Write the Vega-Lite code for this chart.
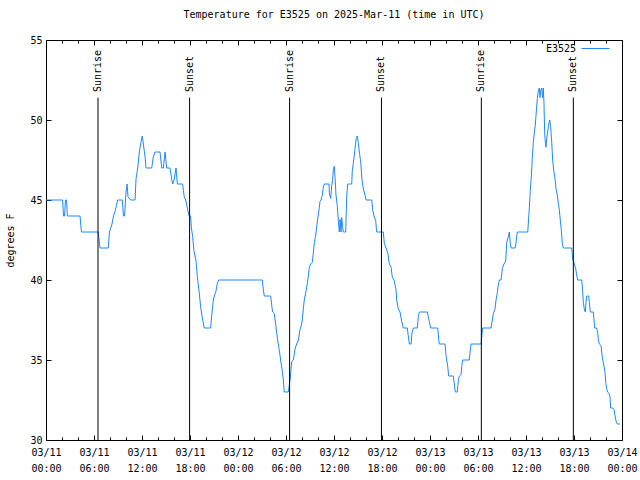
{
  "$schema": "https://vega.github.io/schema/vega-lite/v6.json",
  "autosize": "none",
  "width": 576,
  "height": 400,
  "padding": {"left": 46, "top": 40, "right": 18, "bottom": 40},
  "background": "white",
  "title": {"text": "Temperature for E3525 on 2025-Mar-11 (time in UTC)", "anchor": "middle", "frame": "group", "font": "DejaVu Sans Mono", "fontSize": 10, "fontWeight": "normal", "color": "black", "offset": 14},
  "config": {
    "view": {"stroke": "black", "strokeWidth": 1},
    "axis": {"labelFont": "DejaVu Sans Mono", "labelFontSize": 10, "labelColor": "black", "titleFont": "DejaVu Sans Mono", "titleFontSize": 10, "titleFontWeight": "normal", "titleColor": "black", "tickColor": "black", "grid": false, "domain": false}
  },
  "datasets": {
    "temps": [
      {"t":"2025-03-11T00:00Z","v":45},{"t":"2025-03-11T02:05Z","v":45},{"t":"2025-03-11T02:11Z","v":44},{"t":"2025-03-11T02:19Z","v":44},{"t":"2025-03-11T02:26Z","v":45},{"t":"2025-03-11T02:34Z","v":45},{"t":"2025-03-11T02:40Z","v":44},{"t":"2025-03-11T04:15Z","v":44},{"t":"2025-03-11T04:26Z","v":43},{"t":"2025-03-11T06:32Z","v":43},{"t":"2025-03-11T06:45Z","v":42},{"t":"2025-03-11T07:47Z","v":42},{"t":"2025-03-11T07:56Z","v":43},{"t":"2025-03-11T08:15Z","v":43.5},{"t":"2025-03-11T08:26Z","v":44},{"t":"2025-03-11T08:38Z","v":44.3},{"t":"2025-03-11T08:58Z","v":45},{"t":"2025-03-11T09:32Z","v":45},{"t":"2025-03-11T09:41Z","v":44},{"t":"2025-03-11T09:49Z","v":44},{"t":"2025-03-11T10:00Z","v":45.5},{"t":"2025-03-11T10:08Z","v":46},{"t":"2025-03-11T10:15Z","v":45.2},{"t":"2025-03-11T10:35Z","v":45},{"t":"2025-03-11T11:08Z","v":45},{"t":"2025-03-11T11:15Z","v":46.3},{"t":"2025-03-11T11:28Z","v":47},{"t":"2025-03-11T11:40Z","v":48},{"t":"2025-03-11T11:50Z","v":48.5},{"t":"2025-03-11T12:02Z","v":49},{"t":"2025-03-11T12:10Z","v":48.5},{"t":"2025-03-11T12:23Z","v":47.7},{"t":"2025-03-11T12:30Z","v":47},{"t":"2025-03-11T13:13Z","v":47},{"t":"2025-03-11T13:25Z","v":47.7},{"t":"2025-03-11T13:38Z","v":48},{"t":"2025-03-11T14:15Z","v":48},{"t":"2025-03-11T14:28Z","v":47},{"t":"2025-03-11T14:40Z","v":47},{"t":"2025-03-11T14:53Z","v":48},{"t":"2025-03-11T15:05Z","v":47},{"t":"2025-03-11T15:30Z","v":47},{"t":"2025-03-11T15:43Z","v":46.3},{"t":"2025-03-11T15:50Z","v":46},{"t":"2025-03-11T16:02Z","v":46.3},{"t":"2025-03-11T16:15Z","v":47},{"t":"2025-03-11T16:25Z","v":46},{"t":"2025-03-11T17:05Z","v":46},{"t":"2025-03-11T17:10Z","v":45.6},{"t":"2025-03-11T17:17Z","v":45.2},{"t":"2025-03-11T17:28Z","v":45},{"t":"2025-03-11T17:40Z","v":44.5},{"t":"2025-03-11T17:53Z","v":44},{"t":"2025-03-11T18:05Z","v":44},{"t":"2025-03-11T18:10Z","v":43.3},{"t":"2025-03-11T18:20Z","v":42.7},{"t":"2025-03-11T18:30Z","v":41.8},{"t":"2025-03-11T18:45Z","v":41.2},{"t":"2025-03-11T18:55Z","v":40.2},{"t":"2025-03-11T19:08Z","v":39.3},{"t":"2025-03-11T19:20Z","v":38.3},{"t":"2025-03-11T19:35Z","v":37.5},{"t":"2025-03-11T19:47Z","v":37},{"t":"2025-03-11T20:35Z","v":37},{"t":"2025-03-11T20:43Z","v":37.8},{"t":"2025-03-11T20:55Z","v":38.75},{"t":"2025-03-11T21:02Z","v":39},{"t":"2025-03-11T21:15Z","v":39.3},{"t":"2025-03-11T21:25Z","v":39.8},{"t":"2025-03-11T21:35Z","v":40},
      {"t":"2025-03-12T03:02Z","v":40},{"t":"2025-03-12T03:10Z","v":39.4},{"t":"2025-03-12T03:17Z","v":39},{"t":"2025-03-12T04:05Z","v":39},{"t":"2025-03-12T04:13Z","v":38.4},{"t":"2025-03-12T04:20Z","v":38},{"t":"2025-03-12T04:32Z","v":37.9},{"t":"2025-03-12T04:43Z","v":37.2},{"t":"2025-03-12T04:50Z","v":36.7},{"t":"2025-03-12T04:58Z","v":36.2},{"t":"2025-03-12T05:08Z","v":35.7},{"t":"2025-03-12T05:15Z","v":35.3},{"t":"2025-03-12T05:23Z","v":34.8},{"t":"2025-03-12T05:32Z","v":34.3},{"t":"2025-03-12T05:40Z","v":33.75},{"t":"2025-03-12T05:47Z","v":33},{"t":"2025-03-12T06:17Z","v":33},{"t":"2025-03-12T06:30Z","v":33.75},{"t":"2025-03-12T06:43Z","v":34.9},{"t":"2025-03-12T06:55Z","v":35},{"t":"2025-03-12T07:08Z","v":35.7},{"t":"2025-03-12T07:20Z","v":36},{"t":"2025-03-12T07:32Z","v":36.2},{"t":"2025-03-12T07:45Z","v":36.9},{"t":"2025-03-12T07:53Z","v":37.1},{"t":"2025-03-12T08:02Z","v":37.5},{"t":"2025-03-12T08:10Z","v":38.2},{"t":"2025-03-12T08:17Z","v":38.75},{"t":"2025-03-12T08:30Z","v":39.3},{"t":"2025-03-12T08:40Z","v":39.8},{"t":"2025-03-12T08:47Z","v":40.2},{"t":"2025-03-12T08:55Z","v":40.8},{"t":"2025-03-12T09:05Z","v":41},{"t":"2025-03-12T09:17Z","v":41.1},{"t":"2025-03-12T09:25Z","v":41.7},{"t":"2025-03-12T09:32Z","v":42.3},{"t":"2025-03-12T09:43Z","v":42.8},{"t":"2025-03-12T09:50Z","v":43.3},{"t":"2025-03-12T09:58Z","v":43.85},{"t":"2025-03-12T10:08Z","v":44.4},{"t":"2025-03-12T10:15Z","v":44.9},{"t":"2025-03-12T10:23Z","v":45},{"t":"2025-03-12T10:32Z","v":45.3},{"t":"2025-03-12T10:40Z","v":45.8},{"t":"2025-03-12T10:47Z","v":46},{"t":"2025-03-12T11:23Z","v":46},{"t":"2025-03-12T11:25Z","v":45.4},{"t":"2025-03-12T11:35Z","v":45.1},{"t":"2025-03-12T11:43Z","v":45.9},{"t":"2025-03-12T11:50Z","v":46.3},{"t":"2025-03-12T11:55Z","v":46.9},{"t":"2025-03-12T12:02Z","v":47.1},{"t":"2025-03-12T12:08Z","v":46.4},{"t":"2025-03-12T12:15Z","v":45.3},{"t":"2025-03-12T12:25Z","v":44.6},{"t":"2025-03-12T12:32Z","v":43.75},{"t":"2025-03-12T12:40Z","v":43},{"t":"2025-03-12T12:45Z","v":43.8},{"t":"2025-03-12T12:53Z","v":43},{"t":"2025-03-12T12:58Z","v":43.9},{"t":"2025-03-12T13:05Z","v":43.3},{"t":"2025-03-12T13:10Z","v":43},{"t":"2025-03-12T13:28Z","v":43},{"t":"2025-03-12T13:30Z","v":43.7},{"t":"2025-03-12T13:35Z","v":45.2},{"t":"2025-03-12T13:43Z","v":46},{"t":"2025-03-12T14:13Z","v":46},{"t":"2025-03-12T14:17Z","v":46.8},{"t":"2025-03-12T14:25Z","v":47.3},{"t":"2025-03-12T14:32Z","v":47.8},{"t":"2025-03-12T14:40Z","v":48.4},{"t":"2025-03-12T14:47Z","v":48.85},{"t":"2025-03-12T14:55Z","v":49},{"t":"2025-03-12T15:02Z","v":48.6},{"t":"2025-03-12T15:10Z","v":48},{"t":"2025-03-12T15:20Z","v":47.4},{"t":"2025-03-12T15:30Z","v":46.25},{"t":"2025-03-12T15:40Z","v":45.7},{"t":"2025-03-12T15:53Z","v":45.3},{"t":"2025-03-12T16:00Z","v":45},{"t":"2025-03-12T16:43Z","v":45},{"t":"2025-03-12T16:50Z","v":44.4},{"t":"2025-03-12T17:00Z","v":44},{"t":"2025-03-12T17:13Z","v":43.7},{"t":"2025-03-12T17:20Z","v":43},{"t":"2025-03-12T18:10Z","v":43},{"t":"2025-03-12T18:17Z","v":42.3},{"t":"2025-03-12T18:30Z","v":42},{"t":"2025-03-12T18:43Z","v":41.7},{"t":"2025-03-12T18:55Z","v":41},{"t":"2025-03-12T19:08Z","v":40.8},{"t":"2025-03-12T19:17Z","v":40.2},{"t":"2025-03-12T19:30Z","v":40},{"t":"2025-03-12T19:45Z","v":39.4},{"t":"2025-03-12T19:50Z","v":38.75},{"t":"2025-03-12T20:02Z","v":38.2},{"t":"2025-03-12T20:15Z","v":38},{"t":"2025-03-12T20:28Z","v":37.4},{"t":"2025-03-12T20:40Z","v":37},{"t":"2025-03-12T21:10Z","v":37},{"t":"2025-03-12T21:17Z","v":36.5},{"t":"2025-03-12T21:25Z","v":36},{"t":"2025-03-12T21:38Z","v":36},{"t":"2025-03-12T21:45Z","v":36.7},{"t":"2025-03-12T21:55Z","v":37},{"t":"2025-03-12T22:25Z","v":37},{"t":"2025-03-12T22:32Z","v":37.7},{"t":"2025-03-12T22:40Z","v":38},{"t":"2025-03-12T23:40Z","v":38},{"t":"2025-03-12T23:47Z","v":37.7},{"t":"2025-03-12T23:55Z","v":37.4},
      {"t":"2025-03-13T00:05Z","v":37},{"t":"2025-03-13T00:58Z","v":37},{"t":"2025-03-13T01:05Z","v":36.3},{"t":"2025-03-13T01:10Z","v":36},{"t":"2025-03-13T01:53Z","v":36},{"t":"2025-03-13T02:00Z","v":35.3},{"t":"2025-03-13T02:05Z","v":35},{"t":"2025-03-13T02:13Z","v":34.6},{"t":"2025-03-13T02:20Z","v":34},{"t":"2025-03-13T02:55Z","v":34},{"t":"2025-03-13T03:02Z","v":33.5},{"t":"2025-03-13T03:10Z","v":33},{"t":"2025-03-13T03:25Z","v":33},{"t":"2025-03-13T03:32Z","v":33.7},{"t":"2025-03-13T03:40Z","v":34},{"t":"2025-03-13T03:53Z","v":34.1},{"t":"2025-03-13T03:58Z","v":34.6},{"t":"2025-03-13T04:05Z","v":35},{"t":"2025-03-13T04:55Z","v":35},{"t":"2025-03-13T05:00Z","v":35.5},{"t":"2025-03-13T05:08Z","v":36},{"t":"2025-03-13T06:23Z","v":36},{"t":"2025-03-13T06:28Z","v":36.4},{"t":"2025-03-13T06:35Z","v":37},{"t":"2025-03-13T07:38Z","v":37},{"t":"2025-03-13T07:47Z","v":37.5},{"t":"2025-03-13T07:55Z","v":37.9},{"t":"2025-03-13T08:08Z","v":38.2},{"t":"2025-03-13T08:15Z","v":38.75},{"t":"2025-03-13T08:25Z","v":39.2},{"t":"2025-03-13T08:32Z","v":39.7},{"t":"2025-03-13T08:40Z","v":40},{"t":"2025-03-13T08:53Z","v":40},{"t":"2025-03-13T09:02Z","v":40.7},{"t":"2025-03-13T09:15Z","v":41},{"t":"2025-03-13T09:28Z","v":41.2},{"t":"2025-03-13T09:35Z","v":42.3},{"t":"2025-03-13T09:47Z","v":42.7},{"t":"2025-03-13T09:55Z","v":43},{"t":"2025-03-13T10:02Z","v":42.3},{"t":"2025-03-13T10:08Z","v":42},{"t":"2025-03-13T10:38Z","v":42},{"t":"2025-03-13T10:45Z","v":42.3},{"t":"2025-03-13T10:50Z","v":42.7},{"t":"2025-03-13T10:55Z","v":43},{"t":"2025-03-13T12:13Z","v":43},{"t":"2025-03-13T12:17Z","v":43.5},{"t":"2025-03-13T12:25Z","v":44.5},{"t":"2025-03-13T12:32Z","v":45.6},{"t":"2025-03-13T12:40Z","v":46.5},{"t":"2025-03-13T12:47Z","v":47.6},{"t":"2025-03-13T12:55Z","v":48.6},{"t":"2025-03-13T13:02Z","v":49.2},{"t":"2025-03-13T13:10Z","v":49.7},{"t":"2025-03-13T13:17Z","v":50.5},{"t":"2025-03-13T13:25Z","v":51.35},{"t":"2025-03-13T13:32Z","v":51.8},{"t":"2025-03-13T13:40Z","v":52},{"t":"2025-03-13T13:45Z","v":51.4},{"t":"2025-03-13T13:50Z","v":51.8},{"t":"2025-03-13T13:58Z","v":52},{"t":"2025-03-13T14:05Z","v":51.4},{"t":"2025-03-13T14:10Z","v":52},{"t":"2025-03-13T14:15Z","v":51},{"t":"2025-03-13T14:20Z","v":49.2},{"t":"2025-03-13T14:25Z","v":48.6},{"t":"2025-03-13T14:30Z","v":48.3},{"t":"2025-03-13T14:35Z","v":48.8},{"t":"2025-03-13T14:43Z","v":49.3},{"t":"2025-03-13T14:50Z","v":49.7},{"t":"2025-03-13T14:58Z","v":50},{"t":"2025-03-13T15:05Z","v":49.6},{"t":"2025-03-13T15:13Z","v":48.6},{"t":"2025-03-13T15:20Z","v":47.5},{"t":"2025-03-13T15:30Z","v":46.7},{"t":"2025-03-13T15:38Z","v":46.3},{"t":"2025-03-13T15:45Z","v":45.7},{"t":"2025-03-13T15:55Z","v":45.3},{"t":"2025-03-13T16:02Z","v":44.8},{"t":"2025-03-13T16:10Z","v":44.4},{"t":"2025-03-13T16:17Z","v":43.75},{"t":"2025-03-13T16:25Z","v":43.1},{"t":"2025-03-13T16:32Z","v":42.3},{"t":"2025-03-13T16:40Z","v":42},{"t":"2025-03-13T17:43Z","v":42},{"t":"2025-03-13T17:45Z","v":41.8},{"t":"2025-03-13T17:50Z","v":41.3},{"t":"2025-03-13T18:02Z","v":41},{"t":"2025-03-13T18:13Z","v":40.7},{"t":"2025-03-13T18:20Z","v":40.3},{"t":"2025-03-13T18:28Z","v":40},{"t":"2025-03-13T18:58Z","v":40},{"t":"2025-03-13T19:05Z","v":39.3},{"t":"2025-03-13T19:10Z","v":38.6},{"t":"2025-03-13T19:17Z","v":38.2},{"t":"2025-03-13T19:25Z","v":38},{"t":"2025-03-13T19:30Z","v":38.6},{"t":"2025-03-13T19:35Z","v":39},{"t":"2025-03-13T19:50Z","v":39},{"t":"2025-03-13T19:55Z","v":38.6},{"t":"2025-03-13T20:02Z","v":38},{"t":"2025-03-13T20:25Z","v":38},{"t":"2025-03-13T20:30Z","v":37.5},{"t":"2025-03-13T20:35Z","v":37},{"t":"2025-03-13T20:50Z","v":37},{"t":"2025-03-13T20:58Z","v":36.7},{"t":"2025-03-13T21:02Z","v":36.3},{"t":"2025-03-13T21:10Z","v":36},{"t":"2025-03-13T21:23Z","v":35.9},{"t":"2025-03-13T21:30Z","v":35.3},{"t":"2025-03-13T21:38Z","v":34.9},{"t":"2025-03-13T21:45Z","v":34.6},{"t":"2025-03-13T21:53Z","v":34.2},{"t":"2025-03-13T21:58Z","v":33.6},{"t":"2025-03-13T22:05Z","v":33.2},{"t":"2025-03-13T22:13Z","v":33},{"t":"2025-03-13T22:23Z","v":32.9},{"t":"2025-03-13T22:30Z","v":32.7},{"t":"2025-03-13T22:35Z","v":32},{"t":"2025-03-13T22:50Z","v":32},{"t":"2025-03-13T23:00Z","v":31.9},{"t":"2025-03-13T23:08Z","v":31.5},{"t":"2025-03-13T23:15Z","v":31.2},{"t":"2025-03-13T23:25Z","v":31},{"t":"2025-03-13T23:45Z","v":31}
    ],
    "events": [
      {"t":"2025-03-11T06:30Z","event":"Sunrise"},
      {"t":"2025-03-11T17:57Z","event":"Sunset"},
      {"t":"2025-03-12T06:27Z","event":"Sunrise"},
      {"t":"2025-03-12T17:56Z","event":"Sunset"},
      {"t":"2025-03-13T06:25Z","event":"Sunrise"},
      {"t":"2025-03-13T17:55Z","event":"Sunset"}
    ]
  },
  "layer": [
    {
      "data": {"name": "temps"},
      "mark": {"type": "line", "strokeWidth": 1, "interpolate": "linear"},
      "encoding": {
        "x": {"field": "t", "type": "temporal",
          "scale": {"type": "utc", "domain": [1741651200000, 1741910400000], "nice": false},
          "axis": {"orient": "bottom", "title": null, "tickCount": 12, "tickSize": -5,
            "labelExpr": "[utcFormat(datum.value, '%m/%d'), utcFormat(datum.value, '%H:%M')]",
            "labelOverlap": false, "labelFlush": false, "labelAngle": 0, "labelAlign": "center", "labelBaseline": "top", "labelLineHeight": 16, "labelPadding": 12}},
        "y": {"field": "v", "type": "quantitative",
          "scale": {"domain": [30, 55], "nice": false, "zero": false},
          "axis": {"orient": "left", "title": "degrees F", "values": [30, 35, 40, 45, 50, 55], "tickSize": -5, "labelPadding": 9, "titlePadding": 14}},
        "color": {"datum": "E3525", "type": "nominal",
          "scale": {"range": ["#1e88ff"]},
          "legend": {"title": null, "orient": "none", "legendX": 535, "legendY": -6, "symbolType": "stroke", "symbolSize": 784, "symbolStrokeWidth": 1, "labelAlign": "right", "labelOffset": -34, "labelFont": "DejaVu Sans Mono", "labelFontSize": 10, "labelColor": "black"}}
      }
    },
    {
      "data": {"name": "events"},
      "mark": {"type": "rule", "color": "black", "strokeWidth": 1},
      "encoding": {
        "x": {"field": "t", "type": "temporal",
          "axis": {"orient": "top", "title": null, "labels": false, "tickCount": 12, "tickSize": -5}},
        "y": {"datum": 30, "type": "quantitative",
          "axis": {"orient": "right", "title": null, "labels": false, "values": [30, 35, 40, 45, 50, 55], "tickSize": -5}},
        "y2": {"datum": 51.4}
      }
    },
    {
      "data": {"name": "events"},
      "transform": [{"filter": "datum.event === 'Sunrise'"}],
      "mark": {"type": "text", "angle": 270, "align": "left", "baseline": "middle", "font": "DejaVu Sans Mono", "fontSize": 10, "color": "black"},
      "encoding": {
        "x": {"field": "t", "type": "temporal",
          "axis": {"orient": "bottom", "title": null, "labels": false, "tickSize": -3,
            "values": [1741658400000, 1741665600000, 1741672800000, 1741680000000, 1741687200000, 1741694400000, 1741701600000, 1741708800000, 1741716000000, 1741723200000, 1741730400000, 1741737600000, 1741744800000, 1741752000000, 1741759200000, 1741766400000, 1741773600000, 1741780800000, 1741788000000, 1741795200000, 1741802400000, 1741809600000, 1741816800000, 1741824000000, 1741831200000, 1741838400000, 1741845600000, 1741852800000, 1741860000000, 1741867200000, 1741874400000, 1741881600000, 1741888800000, 1741896000000, 1741903200000]}},
        "y": {"datum": 51.75, "type": "quantitative", "axis": null},
        "text": {"field": "event"}
      }
    },
    {
      "data": {"name": "events"},
      "transform": [{"filter": "datum.event === 'Sunset'"}],
      "mark": {"type": "text", "angle": 270, "align": "left", "baseline": "middle", "font": "DejaVu Sans Mono", "fontSize": 10, "color": "black"},
      "encoding": {
        "x": {"field": "t", "type": "temporal",
          "axis": {"orient": "top", "title": null, "labels": false, "tickSize": -3,
            "values": [1741658400000, 1741665600000, 1741672800000, 1741680000000, 1741687200000, 1741694400000, 1741701600000, 1741708800000, 1741716000000, 1741723200000, 1741730400000, 1741737600000, 1741744800000, 1741752000000, 1741759200000, 1741766400000, 1741773600000, 1741780800000, 1741788000000, 1741795200000, 1741802400000, 1741809600000, 1741816800000, 1741824000000, 1741831200000, 1741838400000, 1741845600000, 1741852800000, 1741860000000, 1741867200000, 1741874400000, 1741881600000, 1741888800000, 1741896000000, 1741903200000]}},
        "y": {"datum": 51.75, "type": "quantitative", "axis": null},
        "text": {"field": "event"}
      }
    }
  ],
  "resolve": {"axis": {"x": "independent", "y": "independent"}}
}
